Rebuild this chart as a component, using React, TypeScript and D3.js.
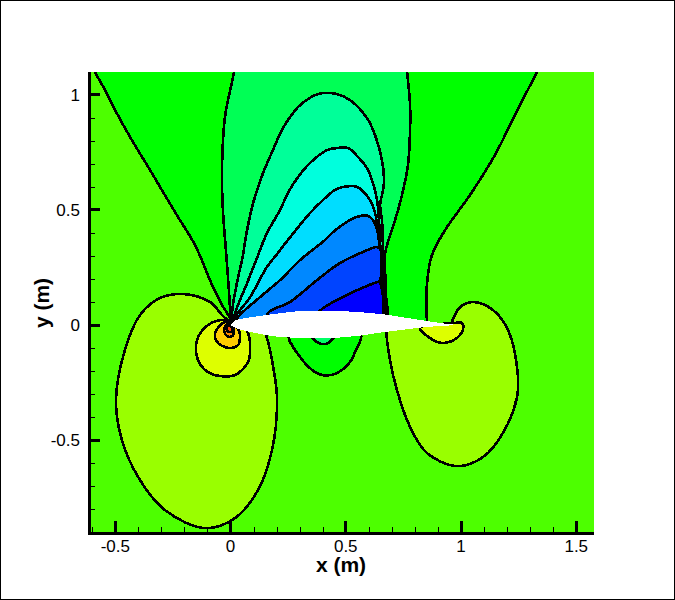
import React from "react";
import * as d3 from "d3";

type P = [number, number];

const xMajorTicks = [-0.5, 0, 0.5, 1, 1.5];
const yMajorTicks = [-0.5, 0, 0.5, 1];
const xMinorTicks = d3.range(-6, 16).map((d) => d / 10).filter((d) => !xMajorTicks.includes(d));
const yMinorTicks = d3.range(-9, 11).map((d) => d / 10).filter((d) => !yMajorTicks.includes(d));

const upperSurface: P[] = [[0,0],[0.02,0.022],[0.063,0.03],[0.15,0.043],[0.236,0.054],[0.30,0.061],[0.388,0.063],[0.475,0.061],[0.562,0.056],[0.67,0.046],[0.822,0.022],[0.909,0.009],[0.983,0]];
const lowerSurface: P[] = [[0.909,-0.004],[0.822,-0.011],[0.735,-0.022],[0.67,-0.03],[0.562,-0.046],[0.475,-0.054],[0.41,-0.056],[0.30,-0.056],[0.215,-0.052],[0.15,-0.043],[0.085,-0.03],[0.033,-0.017],[0.007,-0.004]];

const fanOuter: P[] = [[-0.61,1.25],[-0.61,1.15],[-0.588,1.098],[-0.544,1.019],[-0.501,0.933],[-0.436,0.816],[-0.349,0.672],[-0.241,0.49],[-0.154,0.347],[-0.08,0.174],[-0.037,0.087],[-0.002,0.03],[0.007,-0.005],[0.3,0],[0.852,0],[0.852,0.013],[0.852,0.174],[0.874,0.304],[0.931,0.412],[1.039,0.564],[1.147,0.737],[1.234,0.911],[1.33,1.098],[1.364,1.163],[1.364,1.25]];
const fan2: P[] = [[0.024,1.25],[0.024,1.171],[0.015,1.098],[-0.024,0.902],[-0.037,0.672],[-0.033,0.499],[-0.02,0.325],[-0.007,0.152],[0.002,0.03],[0.01,-0.002],[0.3,0],[0.672,0],[0.672,0.065],[0.672,0.195],[0.67,0.304],[0.679,0.347],[0.714,0.455],[0.744,0.564],[0.77,0.694],[0.779,0.846],[0.779,0.954],[0.766,1.098],[0.757,1.171],[0.757,1.25]];
const fan3: P[] = [[0.007,0.056],[0.033,0.208],[0.05,0.282],[0.072,0.412],[0.098,0.529],[0.141,0.659],[0.184,0.759],[0.223,0.846],[0.258,0.902],[0.302,0.954],[0.38,1.002],[0.462,1.002],[0.518,0.976],[0.592,0.898],[0.627,0.824],[0.657,0.716],[0.666,0.629],[0.662,0.586],[0.649,0.521],[0.657,0.456],[0.662,0.326],[0.668,0.195],[0.668,0.065],[0.668,0],[0.3,0],[0.01,0.005]];
const fan4: P[] = [[0.02,0.052],[0.072,0.182],[0.115,0.291],[0.158,0.399],[0.215,0.499],[0.249,0.573],[0.293,0.642],[0.345,0.703],[0.419,0.759],[0.466,0.768],[0.51,0.768],[0.553,0.729],[0.592,0.681],[0.618,0.616],[0.636,0.542],[0.644,0.456],[0.651,0.325],[0.664,0.195],[0.664,0],[0.3,0],[0.012,0.005]];
const fan5: P[] = [[0.024,0.039],[0.085,0.121],[0.158,0.252],[0.202,0.308],[0.249,0.369],[0.345,0.486],[0.401,0.542],[0.453,0.586],[0.488,0.599],[0.549,0.599],[0.605,0.542],[0.627,0.486],[0.633,0.456],[0.644,0.325],[0.659,0.174],[0.659,0],[0.3,0],[0.015,0.005]];
const fan6: P[] = [[0.033,0.035],[0.128,0.121],[0.215,0.195],[0.302,0.282],[0.41,0.369],[0.445,0.403],[0.518,0.455],[0.562,0.473],[0.597,0.473],[0.618,0.455],[0.636,0.412],[0.647,0.338],[0.655,0.174],[0.655,0],[0.3,0],[0.02,0.005]];
const fan7: P[] = [[0.163,0.052],[0.258,0.1],[0.375,0.195],[0.475,0.269],[0.575,0.317],[0.636,0.338],[0.651,0.325],[0.651,0.174],[0.651,0],[0.163,0]];
const fan8: P[] = [[0.38,0.052],[0.505,0.13],[0.64,0.187],[0.647,0.187],[0.647,0],[0.38,0]];

const leftLobe: P[] = [[-0.011,0.022],[-0.089,0.1],[-0.197,0.134],[-0.306,0.117],[-0.393,0.043],[-0.458,-0.108],[-0.497,-0.325],[-0.471,-0.499],[-0.393,-0.672],[-0.284,-0.803],[-0.111,-0.881],[0.02,-0.837],[0.119,-0.716],[0.18,-0.542],[0.202,-0.325],[0.184,-0.174],[0.158,-0.056],[0.137,0]];
const noseRing1: P[] = [[-0.033,0.022],[-0.098,0],[-0.145,-0.065],[-0.141,-0.152],[-0.098,-0.204],[-0.046,-0.221],[0.02,-0.217],[0.076,-0.161],[0.085,-0.108],[0.076,-0.035],[0.041,0]];
const noseRing2: P[] = [[-0.024,0.013],[-0.067,-0.035],[-0.054,-0.078],[-0.002,-0.1],[0.033,-0.087],[0.041,-0.052],[0.037,-0.026],[0.02,-0.004]];
const noseRing3: P[] = [[-0.015,0.004],[-0.028,-0.022],[-0.015,-0.048],[0.007,-0.048],[0.015,-0.026],[0.007,-0.004]];
const noseRing4: P[] = [[-0.011,-0.004],[-0.017,-0.017],[-0.006,-0.03],[0.007,-0.026],[0.007,-0.009]];

const underLobe: P[] = [[0.254,-0.043],[0.302,-0.139],[0.367,-0.204],[0.41,-0.219],[0.462,-0.208],[0.518,-0.161],[0.544,-0.108],[0.566,-0.043],[0.41,-0.022]];
const underCore: P[] = [[0.354,-0.048],[0.375,-0.074],[0.397,-0.082],[0.423,-0.078],[0.449,-0.048],[0.397,-0.03]];

const rightLobe: P[] = [[0.675,-0.022],[0.692,-0.152],[0.722,-0.282],[0.779,-0.442],[0.852,-0.555],[0.982,-0.612],[1.095,-0.573],[1.182,-0.468],[1.243,-0.312],[1.243,-0.182],[1.204,-0.022],[1.139,0.065],[1.052,0.1],[0.996,0.078],[0.961,0.013],[0.961,0.004],[0.822,0.004],[0.675,0]];
const rightCore: P[] = [[0.822,-0.013],[0.879,-0.065],[0.922,-0.078],[0.982,-0.056],[1.009,-0.017],[1.004,0.009],[0.972,0.009],[0.909,0.004]];

const layers: { points: P[]; color: string }[] = [
  { points: fanOuter, color: "#00ff00" },
  { points: fan2, color: "#00ff55" },
  { points: fan3, color: "#00ff99" },
  { points: fan4, color: "#00ffdd" },
  { points: fan5, color: "#00ddff" },
  { points: fan6, color: "#0088ff" },
  { points: fan7, color: "#0044ff" },
  { points: fan8, color: "#0000ff" },
  { points: leftLobe, color: "#99ff00" },
  { points: noseRing1, color: "#ddff00" },
  { points: noseRing2, color: "#ffcc00" },
  { points: noseRing3, color: "#ff8800" },
  { points: noseRing4, color: "#ff4400" },
  { points: underLobe, color: "#00ff00" },
  { points: underCore, color: "#00ff66" },
  { points: rightLobe, color: "#99ff00" },
  { points: rightCore, color: "#ddff00" },
];

const backgroundColor = "#4dff00";
const font = "'Liberation Sans', Arial, sans-serif";

export default function App() {
  const x = d3.scaleLinear().domain([-0.614, 1.577]).range([89, 594]);
  const y = d3.scaleLinear().domain([-0.902, 1.0976]).range([533, 72]);
  const contour = d3
    .line<P>()
    .x((d) => x(d[0]))
    .y((d) => y(d[1]))
    .curve(d3.curveCatmullRomClosed.alpha(0.5));
  const foil = d3
    .line<P>()
    .x((d) => x(d[0]))
    .y((d) => y(d[1]))
    .curve(d3.curveLinearClosed);

  return (
    <svg
      width={675}
      height={600}
      style={{ position: "absolute", left: 0, top: 0, display: "block" }}
    >
      <rect x={0} y={0} width={675} height={600} fill="#fff" />
      <defs>
        <clipPath id="plot">
          <rect x={89} y={72} width={505} height={461} />
        </clipPath>
      </defs>
      <g clipPath="url(#plot)" shapeRendering="crispEdges">
        <rect x={89} y={72} width={505} height={461} fill={backgroundColor} />
        {layers.map((l, i) => (
          <path key={i} d={contour(l.points) ?? ""} fill={l.color} stroke="#000" strokeWidth={2.6} strokeLinejoin="round" />
        ))}
        <path d={foil([...upperSurface, ...lowerSurface]) ?? ""} fill="#fff" />
      </g>
      <g shapeRendering="crispEdges" fill="#000">
        <rect x={87.5} y={72} width={3} height={463} />
        <rect x={87.5} y={532} width={506} height={3} />
        {xMajorTicks.map((t) => (
          <rect key={t} x={x(t) - 1.5} y={521} width={3} height={12} />
        ))}
        {xMinorTicks.map((t) => (
          <rect key={t} x={Math.round(x(t))} y={527} width={1} height={6} />
        ))}
        {yMajorTicks.map((t) => (
          <rect key={t} x={89} y={y(t) - 1.5} width={11} height={3} />
        ))}
        {yMinorTicks.map((t) => (
          <rect key={t} x={89} y={Math.round(y(t))} width={6} height={1} />
        ))}
      </g>
      <g fontFamily={font} fontSize={17} fill="#000">
        {xMajorTicks.map((t) => (
          <text key={t} x={x(t)} y={552} textAnchor="middle">{t}</text>
        ))}
        {yMajorTicks.map((t) => (
          <text key={t} x={80} y={y(t) + 6} textAnchor="end">{t}</text>
        ))}
      </g>
      <text x={341} y={572} textAnchor="middle" fontFamily={font} fontSize={21} fontWeight="bold">x (m)</text>
      <text transform="translate(49,303) rotate(-90)" textAnchor="middle" fontFamily={font} fontSize={21} fontWeight="bold">y (m)</text>
      <rect x={0.5} y={0.5} width={674} height={599} fill="none" stroke="#000" strokeWidth={1} shapeRendering="crispEdges" />
    </svg>
  );
}
